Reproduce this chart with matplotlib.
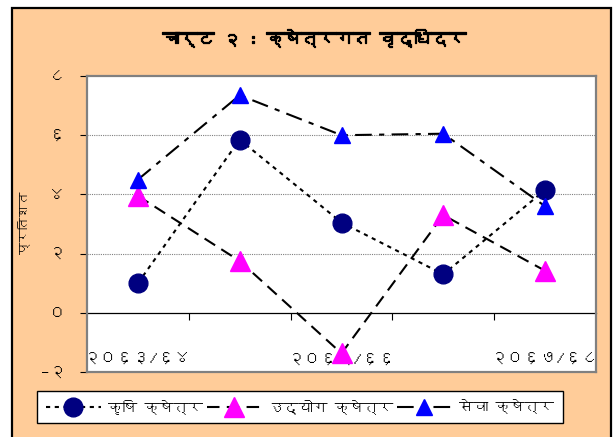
import matplotlib
matplotlib.use("Agg")
import matplotlib.pyplot as plt
import matplotlib.font_manager as fm
import matplotlib.patheffects as pe
from matplotlib.ft2font import FT2Font
from matplotlib.patches import Rectangle
from matplotlib.lines import Line2D

# ---------------- data ----------------
categories = ["२०६३/६४", "२०६४/६५", "२०६५/६६", "२०६६/६७", "२०६७/६८"]
shown_labels = ["२०६३/६४", "", "२०६५/६६", "", "२०६७/६८"]
krishi = [1.0, 5.85, 3.05, 1.3, 4.15]      # कृषि क्षेत्र
udyog = [3.95, 1.75, -1.37, 3.3, 1.42]     # उद्योग क्षेत्र
sewa = [4.5, 7.35, 6.0, 6.05, 3.6]         # सेवा क्षेत्र
series_names = ["कृषि क्षेत्र", "उद्योग क्षेत्र", "सेवा क्षेत्र"]
yticks = [-2, 0, 2, 4, 6, 8]
ytick_labels = ["–२", "०", "२", "४", "६", "८"]
title = "चार्ट २ : क्षेत्रगत वृद्धिदर"
ylabel = "प्रतिशत"

# ---------------- font ----------------
deva = None
for f in fm.fontManager.ttflist:
    try:
        if 0x0915 in FT2Font(f.fname).get_charmap():
            deva = f.name
            break
    except Exception:
        pass
fams = ([deva] if deva else []) + ["DejaVu Sans"]
plt.rcParams["font.family"] = fams

W, H = 614, 437
fig = plt.figure(figsize=(W / 100, H / 100), dpi=100)
fig.patch.set_facecolor("white")

# outer peach frame
fig.patches.append(Rectangle((12 / W, -0.05), (611 - 12) / W, 1 - 8 / H + 0.05,
                             transform=fig.transFigure, facecolor="#FFCC99",
                             edgecolor="black", lw=1.6, zorder=-10))

ax = fig.add_axes([87 / W, 1 - 372 / H, (596 - 87) / W, (372 - 76) / H])
ax.set_zorder(1)
ax.set_facecolor("white")
x = list(range(len(categories)))

for y in [2, 4, 6]:
    ax.axhline(y, color="#808080", lw=0.8, ls=(0, (1, 1)), zorder=1)

ax.plot(x, krishi, color="black", lw=1.5, dashes=(2, 2.2), marker="o",
        markersize=13.5, markerfacecolor="#000080", markeredgecolor="#000080", zorder=3)
ax.plot(x, udyog, color="black", lw=1.5, dashes=(6, 3.5), marker="^",
        markersize=15, markerfacecolor="#FF00FF", markeredgecolor="#FF00FF", zorder=4)
ax.plot(x, sewa, color="black", lw=1.5, dashes=(8, 3.5, 2.5, 3.5), marker="^",
        markersize=11, markerfacecolor="#0000FF", markeredgecolor="#0000FF", zorder=5)

ax.set_xlim(-0.5, len(categories) - 0.5)
ax.set_ylim(-2, 8)
ax.set_yticks(yticks)
ax.set_yticklabels(ytick_labels, fontsize=12)
ax.tick_params(axis="y", direction="out", length=5.3, width=0.8, pad=10, colors="black")
ax.set_xticks(x)
ax.set_xticklabels(shown_labels, fontsize=12)
ax.tick_params(axis="x", length=0, pad=-14)
for s in ax.spines.values():
    s.set_color("#808080")
    s.set_linewidth(1.6)

# category axis at y = 0 with boundary tick marks
sec = ax.secondary_xaxis(0.2)
sec.set_xticks([i + 0.5 for i in range(len(categories) - 1)])
sec.set_xticklabels([])
sec.tick_params(direction="out", length=5, width=0.8, colors="black")
sec.spines["bottom"].set_color("black")
sec.spines["bottom"].set_linewidth(0.9)

fig.text(314 / W, 1 - 38 / H, title, fontsize=12.5, fontweight="bold",
         ha="center", va="center",
         path_effects=[pe.withStroke(linewidth=0.9, foreground="black")])
fig.text(24 / W, 1 - 223 / H, ylabel, fontsize=9, rotation=90,
         ha="center", va="center")

handles = [
    Line2D([], [], color="black", lw=1.5, dashes=(2, 2.2), marker="o", markersize=13.5,
           markerfacecolor="#000080", markeredgecolor="#000080"),
    Line2D([], [], color="black", lw=1.5, dashes=(6, 3.5), marker="^", markersize=15,
           markerfacecolor="#FF00FF", markeredgecolor="#FF00FF"),
    Line2D([], [], color="black", lw=1.5, dashes=(8, 3.5, 2.5, 3.5), marker="^", markersize=11,
           markerfacecolor="#0000FF", markeredgecolor="#0000FF"),
]
leg = fig.legend(handles, series_names, loc="lower left",
                 bbox_to_anchor=(37 / W, 1 - 423 / H, (563 - 37) / W, (423 - 388) / H),
                 mode="expand", ncol=3, fontsize=10.5, handlelength=3.8,
                 handletextpad=0.5, columnspacing=1.0, borderpad=0.6,
                 borderaxespad=0, fancybox=False, framealpha=1)
leg.get_frame().set_edgecolor("black")
leg.get_frame().set_linewidth(1.0)

fig.savefig("out.png", dpi=100)
